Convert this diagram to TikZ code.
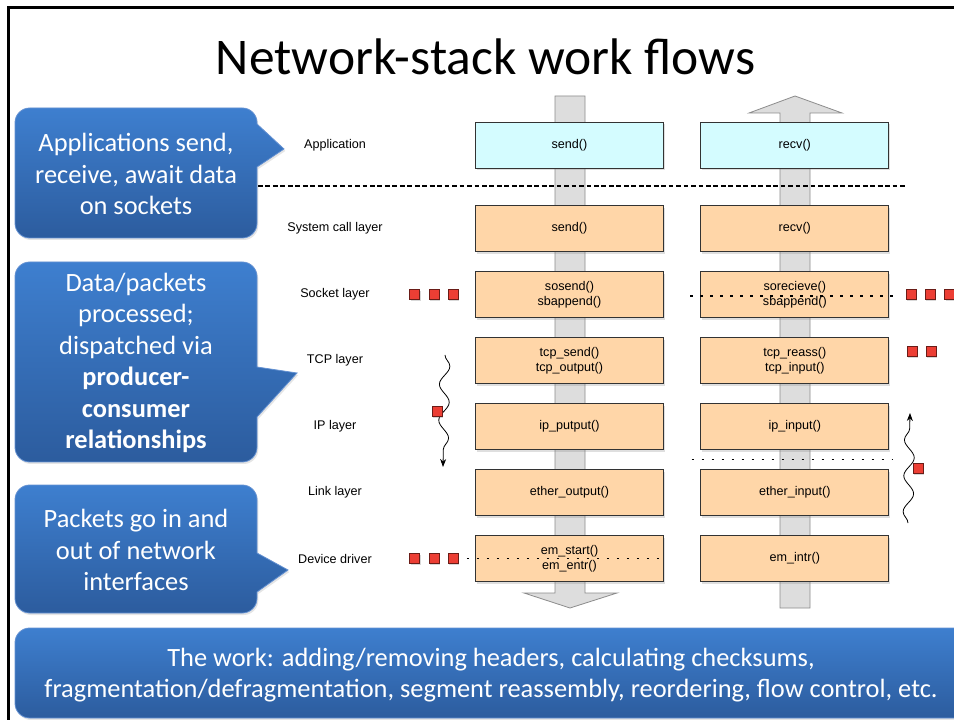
\documentclass[tikz,border=0pt]{standalone}
\usepackage{fontspec}
\setmainfont{Carlito}
\newfontfamily\helv{Liberation Sans}
\usetikzlibrary{arrows.meta, positioning, calc, shadows, decorations.pathmorphing}
\definecolor{peach}{RGB}{255,214,168}
\definecolor{appc}{RGB}{212,252,255}
\definecolor{pktred}{RGB}{236,62,52}
\definecolor{bubtop}{RGB}{62,127,207}
\definecolor{bubbot}{RGB}{44,92,158}
\definecolor{bubedge}{RGB}{100,145,210}
\definecolor{barc}{RGB}{221,221,221}
\tikzset{
  % layer names on the left
  lay/.style={font=\helv\fontsize{9.45}{11.25}\selectfont},
  % function boxes of the two stacks
  fn/.style={rectangle, draw=black!80, line width=0.7pt, fill=peach, outer sep=0pt,
             minimum width=141pt, minimum height=34.5pt, inner sep=0pt, align=center,
             font=\helv\fontsize{9.45}{11.25}\selectfont,
             drop shadow={opacity=0.25, shadow xshift=0.8pt, shadow yshift=-1.6pt}},
  appfn/.style={fn, fill=appc},
  % packets
  pkt/.style={rectangle, draw=pktred!45!black, line width=0.5pt, fill=pktred,
              minimum size=7.5pt, inner sep=0pt, outer sep=0pt,
              drop shadow={opacity=0.3, shadow xshift=0.8pt, shadow yshift=-1.2pt}},
  % blue speech bubbles
  bub/.style={top color=bubtop, bottom color=bubbot, draw=bubedge, line width=0.6pt,
              drop shadow={opacity=0.2, shadow xshift=1pt, shadow yshift=-1.5pt}},
  btxt/.style={text=white, align=center, font=\fontsize{19.8}{23.6}\selectfont},
  bar/.style={fill=barc, draw=black!45, line width=0.6pt},
  sepd/.style={line width=1.1pt, dash pattern=on 3.6pt off 2pt},
  sepdot/.style={line width=1.35pt, dash pattern=on 1.8pt off 5.7pt},
  wig/.style={decorate, decoration={snake, amplitude=3.8pt, segment length=27pt,
              post length=7pt}, -{Stealth[length=6pt, width=4.5pt]}, line width=0.6pt}
}
\begin{document}
\begin{tikzpicture}[x=0.75pt, y=-0.75pt]
  \clip (0,0) rectangle (954,720);
  \fill[white] (0,0) rectangle (954,720);
  % --- slide frame ---
  \draw[line width=2.6pt] (8.5,7.5) rectangle (1000,800);

  \node[font=\fontsize{38.6}{40}\selectfont, anchor=base] (ttl) at (485.5,75)
    {Network-stack work flows};

  % --- gray flow bars (send goes down, recv goes up) ---
  \draw[bar] (555,96) -- (585,96) -- (585,593) -- (617,593) -- (570,608)
    -- (524,593) -- (555,593) -- cycle;
  \draw[bar] (780,608) -- (810,608) -- (810,113) -- (842,113) -- (795,96)
    -- (749,113) -- (780,113) -- cycle;

  % --- user / kernel boundary ---
  \coordinate (ul) at (258,186);
  \coordinate (ur) at (906,186);
  \draw[sepd] (ul) -- (ur);

  % --- send stack ---
  \node[appfn] (sapp) at (569.5,145) {send()};
  \node[fn] (ssys) at (569.5,228.5) {send()};
  \node[fn, below=15pt of ssys] (ssock) {sosend()\\sbappend()};
  \node[fn, below=15pt of ssock] (stcp) {tcp\_send()\\tcp\_output()};
  \node[fn, below=15pt of stcp] (sip) {ip\_putput()};
  \node[fn, below=15pt of sip] (slink) {ether\_output()};
  \node[fn, below=15pt of slink] (sdev) {em\_start()\\em\_entr()};

  % --- receive stack ---
  \node[appfn, right=28pt of sapp] (rapp) {recv()};
  \node[fn, right=28pt of ssys] (rsys) {recv()};
  \node[fn, right=28pt of ssock] (rsock) {sorecieve()\\sbappend()};
  \node[fn, right=28pt of stcp] (rtcp) {tcp\_reass()\\tcp\_input()};
  \node[fn, right=28pt of sip] (rip) {ip\_input()};
  \node[fn, right=28pt of slink] (rlink) {ether\_input()};
  \node[fn, right=28pt of sdev] (rdev) {em\_intr()};

  % --- layer names ---
  \coordinate (labx) at (335,0);
  \node[lay] (lapp) at (sapp -| labx) {Application};
  \node[lay] (lsys) at (ssys -| labx) {System call layer};
  \node[lay] (lsock) at (ssock -| labx) {Socket layer};
  \node[lay] (ltcp) at (stcp -| labx) {TCP layer};
  \node[lay] (lip) at (sip -| labx) {IP layer};
  \node[lay] (llink) at (slink -| labx) {Link layer};
  \node[lay] (ldev) at (sdev -| labx) {Device driver};

  % --- queues (dotted) ---
  \draw[sepdot] ([xshift=-8pt, yshift=-1pt]rsock.west) -- ([xshift=3pt, yshift=-1pt]rsock.east);
  \draw[sepdot] ([xshift=-6.5pt]sdev.west) -- ([xshift=2.4pt]sdev.east);
  \coordinate (q1) at ($(rip.south west)!.5!(rlink.north west)$);
  \coordinate (q2) at ($(rip.south east)!.5!(rlink.north east)$);
  \draw[sepdot] ([xshift=-7pt]q1) -- ([xshift=3pt]q2);

  % --- packets waiting ---
  \node[pkt] (pa1) at (414.5,294.5) {};
  \node[pkt, right=7pt of pa1] (pa2) {};
  \node[pkt, right=7pt of pa2] (pa3) {};
  \node[pkt] (pb1) at (911,294.5) {};
  \node[pkt, right=7pt of pb1] (pb2) {};
  \node[pkt, right=7pt of pb2] (pb3) {};
  \node[pkt] (pc1) at (912,351) {};
  \node[pkt, right=7pt of pc1] (pc2) {};
  \node[pkt] (pd1) at (414.5,558.5) {};
  \node[pkt, right=7pt of pd1] (pd2) {};
  \node[pkt, right=7pt of pd2] (pd3) {};

  % --- packets in flight ---
  \coordinate (w1s) at (445,355);
  \coordinate (w1e) at (443,467);
  \draw[wig] (w1s) -- (w1e);
  \node[pkt] (pw1) at (437,411) {};
  \coordinate (w2s) at (908,523);
  \coordinate (w2e) at (910,413);
  \draw[wig] (w2s) -- (w2e);
  \node[pkt] (pw2) at (918,468) {};

  % --- speech bubbles ---
  \draw[bub, rounded corners=11pt] (15,173) |- (257,108) [sharp corners] -- (257,124)
    -- (284,149) -- (257,167) [rounded corners=11pt] |- (15,238) -- cycle;
  \node[btxt] (bapp) at (136,174) {Applications send,\\receive, await data\\on sockets};

  \draw[bub, rounded corners=11pt] (15,362) |- (257,262) [sharp corners] -- (257,367)
    -- (297,373) -- (257,417) [rounded corners=11pt] |- (15,462) -- cycle;
  \node[btxt] (bproc) at (136,363) {Data/packets\\processed;\\dispatched via\\
    \textbf{producer-}\\\textbf{consumer}\\\textbf{relationships}};

  \draw[bub, rounded corners=11pt] (15,549) |- (257,485) [sharp corners] -- (257,553)
    -- (288,570) -- (257,592) [rounded corners=11pt] |- (15,613) -- cycle;
  \node[btxt] (bdev) at (136,550) {Packets go in and\\out of network\\interfaces};

  \draw[bub, rounded corners=11pt] (15,673) |- (980,628) |- (15,718) -- cycle;
  \node[btxt] (bwork) at (491,675) {The work: adding/removing headers, calculating checksums,\\
    fragmentation/defragmentation, segment reassembly, reordering, flow control, etc.};
\end{tikzpicture}
\end{document}
